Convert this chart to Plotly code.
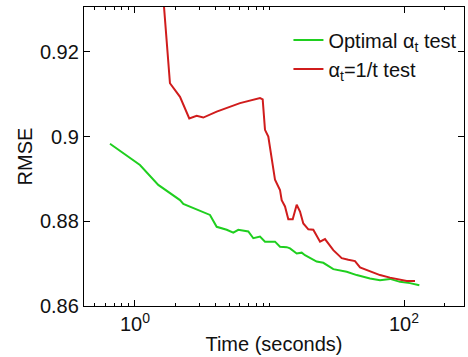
import plotly.graph_objects as go

# Optimal alpha_t test (green)
opt_time = [0.652, 1.089, 1.490, 2.161, 2.287, 3.611, 4.050, 4.807, 5.382, 5.862,
            6.958, 7.58, 8.50, 9.26, 10.99, 11.97, 13.43, 14.21, 15.93, 17.36,
            18.36, 20.0, 22.43, 25.12, 26.62, 29.82, 37.50, 44.5, 55.87, 66.3,
            78.7, 93.4, 110.8, 130.0]
opt_rmse = [0.8983, 0.8933, 0.8886, 0.8850, 0.8841, 0.8815, 0.8787, 0.8780, 0.8773, 0.8780,
            0.8776, 0.8760, 0.8764, 0.8752, 0.8752, 0.8740, 0.8739, 0.8736, 0.8724, 0.8726,
            0.8720, 0.8714, 0.8705, 0.8702, 0.8697, 0.8687, 0.8681, 0.8673, 0.8665, 0.8661,
            0.8664, 0.8657, 0.8654, 0.8649]

# alpha_t = 1/t test (red)
inv_time = [1.60, 1.643, 1.820, 2.161, 2.533, 2.875, 3.220, 4.050, 6.035, 8.50,
            8.90, 9.26, 9.80, 10.99, 11.97, 12.32, 13.04, 13.80, 14.88, 15.93,
            16.86, 17.84, 19.44, 21.17, 23.75, 25.86, 29.82, 34.43, 38.54, 43.22,
            47.10, 52.8, 57.5, 66.3, 78.7, 90.7, 104.7, 120.7]
inv_rmse = [0.9400, 0.9307, 0.9126, 0.9094, 0.9043, 0.9049, 0.9045, 0.9059, 0.9079, 0.9091,
            0.9088, 0.9016, 0.9000, 0.8898, 0.8874, 0.8850, 0.8835, 0.8805, 0.8805, 0.8839,
            0.8823, 0.8795, 0.8781, 0.8780, 0.8752, 0.8758, 0.8732, 0.8713, 0.8709, 0.8706,
            0.8691, 0.8685, 0.8681, 0.8673, 0.8667, 0.8663, 0.8659, 0.8659]

x_major = [1, 100]
x_major_text = ["10<sup>0</sup>", "10<sup>2</sup>"]
x_minor = [0.5, 0.6, 0.7, 0.8, 0.9, 2, 3, 4, 5, 6, 7, 8, 9, 10, 200]
y_ticks = [0.86, 0.88, 0.90, 0.92]
y_ticktext = ["0.86", "0.88", "0.9", "0.92"]

FONT = "Liberation Sans, Arial, Helvetica, sans-serif"

fig = go.Figure()
fig.add_trace(go.Scatter(x=opt_time, y=opt_rmse, mode="lines",
                         line=dict(color="#1fcf1f", width=2),
                         name="Optimal α<sub>t</sub> test"))
fig.add_trace(go.Scatter(x=inv_time, y=inv_rmse, mode="lines",
                         line=dict(color="#d01c1c", width=2),
                         name="α<sub>t</sub>=1/t test"))

fig.update_layout(
    width=468, height=357,
    margin=dict(l=84, r=4, t=7, b=51),
    paper_bgcolor="white", plot_bgcolor="white",
    font=dict(family=FONT, size=20, color="#111111"),
    showlegend=True,
    legend=dict(x=0.538, y=0.955, xanchor="left", yanchor="top",
                bgcolor="rgba(255,255,255,0)", borderwidth=0,
                font=dict(size=20), tracegroupgap=0),
    xaxis=dict(type="log", range=[-0.379, 2.446],
               tickmode="array", tickvals=x_major, ticktext=x_major_text,
               ticks="inside", ticklen=6, tickwidth=1.3, tickcolor="black",
               showline=True, linecolor="black", linewidth=1.3, mirror="ticks",
               showgrid=False, zeroline=False,
               minor=dict(tickvals=x_minor, ticks="inside", ticklen=3,
                          tickwidth=1.3, tickcolor="black", showgrid=False),
               title=dict(text="Time (seconds)", standoff=2,
                          font=dict(size=20))),
    yaxis=dict(range=[0.86, 0.9306],
               tickmode="array", tickvals=y_ticks, ticktext=y_ticktext,
               ticks="inside", ticklen=6, tickwidth=1.3, tickcolor="black",
               showline=True, linecolor="black", linewidth=1.3, mirror="ticks",
               showgrid=False, zeroline=False,
               title=dict(text="RMSE", standoff=1, font=dict(size=20))),
)

fig.write_html("out.html")
